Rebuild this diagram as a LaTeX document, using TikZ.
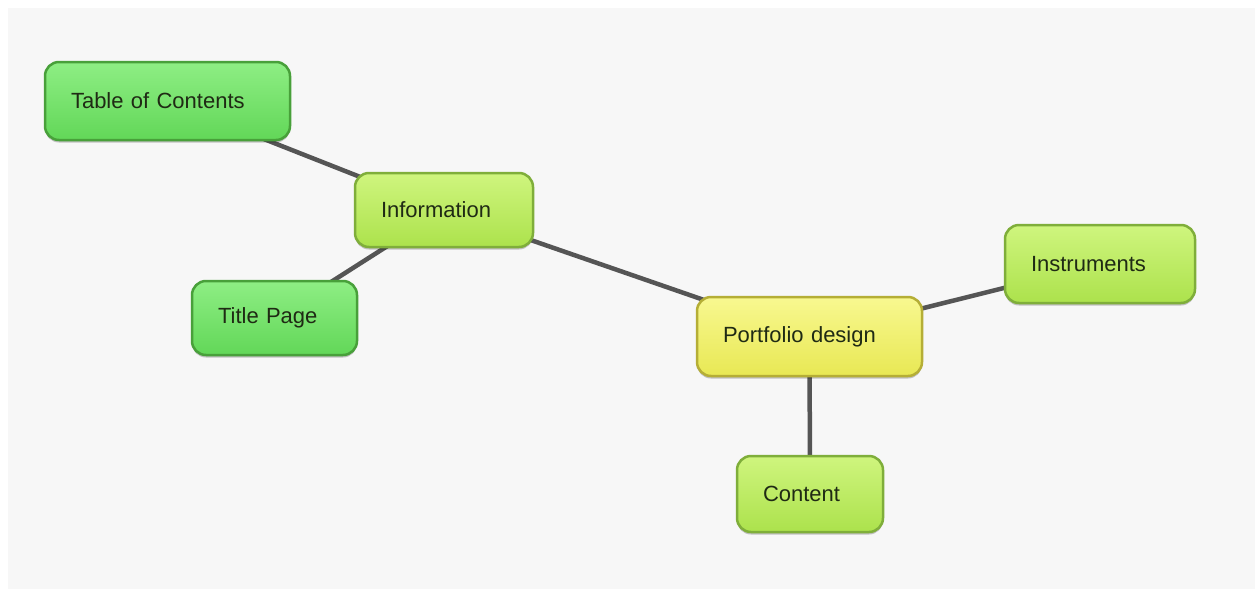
\documentclass[tikz,border=0pt]{standalone}
\usepackage{fontspec}
\setmainfont{Liberation Sans}
\usetikzlibrary{backgrounds,shadows}

\definecolor{pagebg}{HTML}{F7F7F7}
\definecolor{linkgray}{HTML}{555555}
\definecolor{labeltext}{HTML}{1F2A14}
% bright green topic
\definecolor{gTop}{HTML}{8EEE84}
\definecolor{gMid}{HTML}{6FE267}
\definecolor{gBot}{HTML}{62D758}
\definecolor{gEdge}{HTML}{48A03A}
% lime topic
\definecolor{lTop}{HTML}{CFF57E}
\definecolor{lMid}{HTML}{BAEC5C}
\definecolor{lBot}{HTML}{ACE24C}
\definecolor{lEdge}{HTML}{7FAE3A}
% yellow central topic
\definecolor{yTop}{HTML}{F8F890}
\definecolor{yMid}{HTML}{F0F064}
\definecolor{yBot}{HTML}{E8E854}
\definecolor{yEdge}{HTML}{B5AE36}

\tikzset{
  topic/.style={rounded corners=14pt, line width=2.5pt, inner xsep=26pt,
    inner ysep=0pt, align=left, text=labeltext,
    font=\fontsize{22}{26}\selectfont,
    drop shadow={shadow xshift=0pt, shadow yshift=-2.5pt, opacity=0.22, fill=black}},
  greentopic/.style={topic, draw=gEdge, top color=gTop, middle color=gMid, bottom color=gBot},
  limetopic/.style={topic, draw=lEdge, top color=lTop, middle color=lMid, bottom color=lBot},
  yellowtopic/.style={topic, draw=yEdge, top color=yTop, middle color=yMid, bottom color=yBot},
  link/.style={draw=linkgray, line width=4.5pt, line cap=round}
}

\begin{document}
\begin{tikzpicture}[x=1pt,y=-1pt]
  \useasboundingbox (0,0) rectangle (1255,589);
  \begin{scope}[on background layer]
    \fill[pagebg] (8,8) rectangle (1255,589);
  \end{scope}

  % topics
  \node[greentopic, text width=193pt, minimum height=78pt] (toc) at (167.5,101) {Table of Contents};
  \node[limetopic,  text width=126pt, minimum height=74pt] (info) at (444,210) {Information};
  \node[greentopic, text width=113pt, minimum height=74pt] (title) at (274.5,318) {Title Page};
  \node[yellowtopic,text width=173pt, minimum height=79pt] (port) at (809.5,336.5) {Portfolio design};
  \node[limetopic,  text width=138pt, minimum height=78pt] (instr) at (1100,264) {Instruments};
  \node[limetopic,  text width=94pt,  minimum height=76pt] (cont) at (810,494) {Content};

  % connectors run centre to centre, hidden under the topic boxes
  \begin{scope}[on background layer]
    \draw[link] (toc.center) -- (info.center);
    \draw[link] (info.center) -- (title.center);
    \draw[link] (info.center) -- (port.center);
    \draw[link] (port.center) -- (instr.center);
    \draw[link] (port.center) -- (cont.center);
  \end{scope}
\end{tikzpicture}
\end{document}
